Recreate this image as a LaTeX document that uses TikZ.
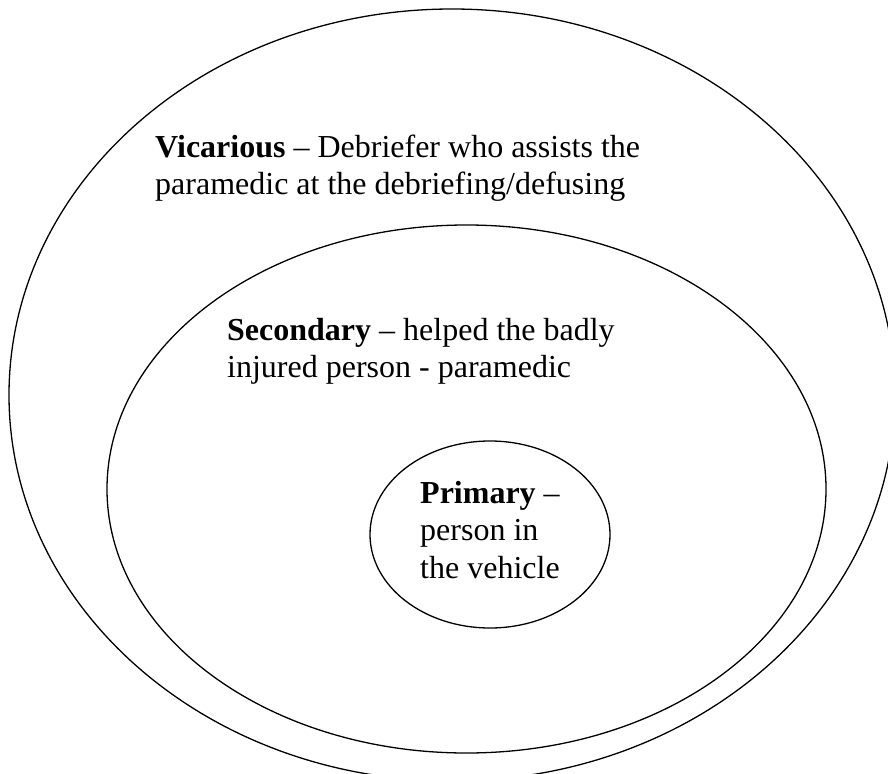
\documentclass[tikz,border=0pt]{standalone}
\usepackage{fontspec}
\setmainfont{Liberation Serif}
\usepackage{tikz}

\tikzset{
  ring/.style={line width=1.3pt},
  zonetext/.style={anchor=base west, inner sep=0pt, align=left,
    font=\fontsize{32}{37.5}\selectfont}
}

\begin{document}
\begin{tikzpicture}[x=1pt, y=-1pt]
        \useasboundingbox (0,0) rectangle (888,773);

        % Centres of the three zones
        \coordinate (V) at (452,395);
        \coordinate (S) at (466.5,489);
        \coordinate (P) at (490,534.5);

        % Zones
        \begin{scope}
          \clip (0,0) rectangle (888,773);
          \draw[ring] (V) ellipse [x radius=443, y radius=386];
        \end{scope}
        \draw[ring] (S) ellipse [x radius=359.5, y radius=264];
        \draw[ring] (P) ellipse [x radius=120, y radius=93.5];

        % Labels (placed at the baseline of their last line)
        \node[zonetext] (vicarious) at (155,194.5)
          {\textbf{Vicarious} – Debriefer who assists the\\paramedic at the debriefing/defusing};
        \node[zonetext] (secondary) at (227,377.5)
          {\textbf{Secondary} – helped the badly\\injured person - paramedic};
        \node[zonetext] (primary) at (420,578)
          {\textbf{Primary} –\\person in\\the vehicle};

      \end{tikzpicture}
\end{document}
